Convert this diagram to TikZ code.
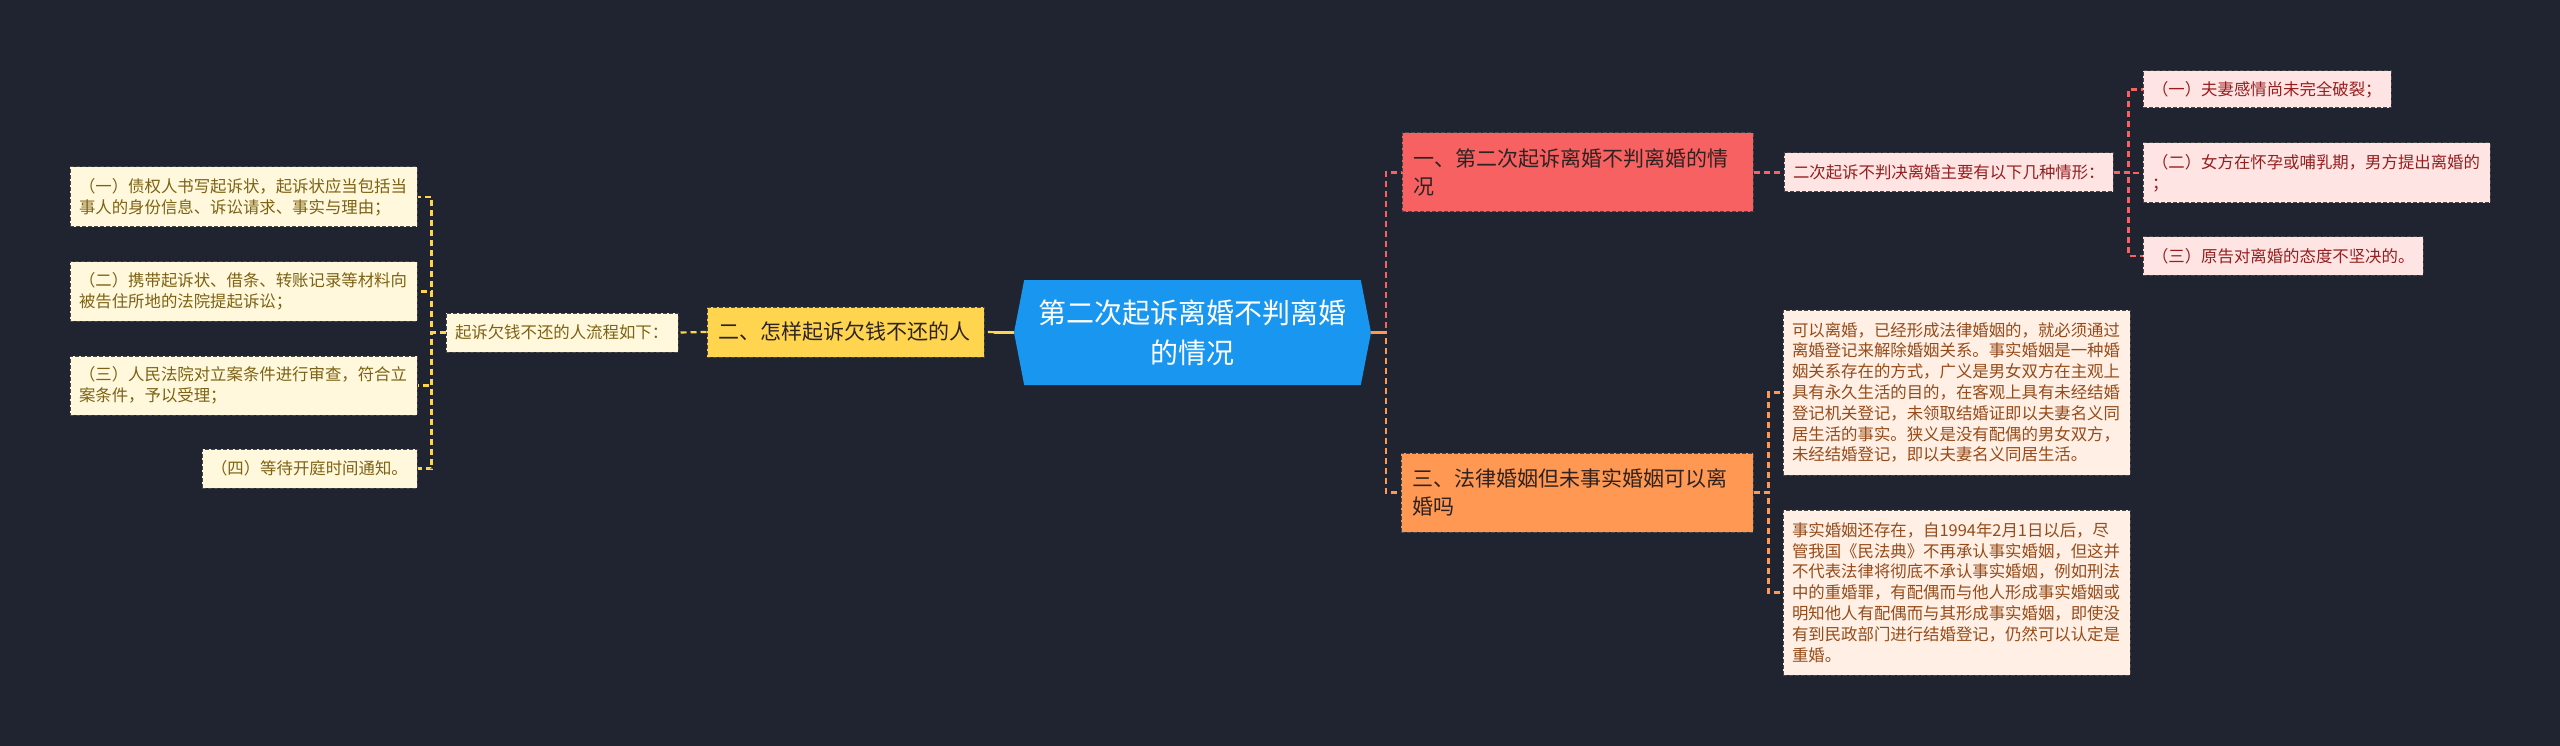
\documentclass[tikz,border=0pt]{standalone}
\usepackage{fontspec}
\newfontfamily\cjk{Noto Sans CJK SC}
\usepackage{tikz}
\usetikzlibrary{shapes.symbols, positioning, calc}
\definecolor{mindBg}{RGB}{32, 36, 48}
\definecolor{mindBlue}{RGB}{25, 150, 240}
\definecolor{mindYellow}{RGB}{255, 213, 79}
\definecolor{mindRed}{RGB}{247, 97, 97}
\definecolor{mindOrange}{RGB}{255, 152, 82}
\definecolor{leafYellow}{RGB}{255, 248, 220}
\definecolor{leafPink}{RGB}{255, 228, 228}
\definecolor{leafPeach}{RGB}{255, 239, 228}
\definecolor{inkYellow}{RGB}{125, 98, 20}
\definecolor{inkRed}{RGB}{150, 30, 30}
\definecolor{inkBrown}{RGB}{150, 75, 25}
\definecolor{inkDark}{RGB}{45, 35, 35}
\definecolor{boxEdge}{RGB}{70, 70, 70}

\begin{document}
\begin{tikzpicture}[x=1pt, y=-1pt,
    topic/.style={rectangle, draw=boxEdge, dash pattern=on 4pt off 2pt, line width=1pt,
                  inner xsep=11pt, inner ysep=0pt, align=left, text=inkDark,
                  font={\cjk\fontsize{21}{28}\selectfont}},
    leaf/.style={rectangle, draw=boxEdge, dash pattern=on 4pt off 2pt, line width=1pt,
                 inner xsep=9pt, inner ysep=0pt, align=left,
                 font={\cjk\fontsize{16.4}{20.8}\selectfont}},
    link/.style={line width=2.2pt, dash pattern=on 6pt off 4pt},
    stub/.style={line width=2.6pt}]
    \fill[mindBg] (0,0) rectangle (2560,746);
    \useasboundingbox (0,0) rectangle (2560,746);

    % centro
    \node[signal, signal to=west and east, signal pointer angle=158, fill=mindBlue,
          minimum width=357pt, minimum height=105pt, inner sep=0pt, align=center, text=white,
          font={\cjk\fontsize{28}{40}\selectfont}] (root) at (1192.5,332.5)
          {第二次起诉离婚不判离婚\\的情况};

    % rama izquierda
    \node[topic, fill=mindYellow, text width=255pt, minimum height=50pt] (branchB) at (845.5,332)
          {二、怎样起诉欠钱不还的人};
    \node[leaf, fill=leafYellow, text=inkYellow, text width=214pt, minimum height=39pt] (flow) at (562,332.5)
          {起诉欠钱不还的人流程如下：};
    \node[leaf, fill=leafYellow, text=inkYellow, text width=329pt, minimum height=60pt] (stepA) at (243.5,197)
          {（一）债权人书写起诉状，起诉状应当包括当\\事人的身份信息、诉讼请求、事实与理由；};
    \node[leaf, fill=leafYellow, text=inkYellow, text width=329pt, minimum height=59pt] (stepB) at (243.5,291.5)
          {（二）携带起诉状、借条、转账记录等材料向\\被告住所地的法院提起诉讼；};
    \node[leaf, fill=leafYellow, text=inkYellow, text width=329pt, minimum height=59pt] (stepC) at (243.5,385.5)
          {（三）人民法院对立案条件进行审查，符合立\\案条件，予以受理；};
    \node[leaf, fill=leafYellow, text=inkYellow, text width=197pt, minimum height=39pt] (stepD) at (309.5,468.5)
          {（四）等待开庭时间通知。};

    % rama derecha arriba
    \node[topic, fill=mindRed, text width=329pt, minimum height=79pt] (branchA) at (1577.5,172.5)
          {一、第二次起诉离婚不判离婚的情\\况};
    \node[leaf, fill=leafPink, text=inkRed, text width=311pt, minimum height=39pt] (sub) at (1948.5,172.5)
          {二次起诉不判决离婚主要有以下几种情形：};
    \node[leaf, fill=leafPink, text=inkRed, text width=230pt, minimum height=37pt] (caseA) at (2267,89.5)
          {（一）夫妻感情尚未完全破裂；};
    \node[leaf, fill=leafPink, text=inkRed, text width=329pt, minimum height=60pt] (caseB) at (2316.5,173)
          {（二）女方在怀孕或哺乳期，男方提出离婚的\\；};
    \node[leaf, fill=leafPink, text=inkRed, text width=262pt, minimum height=38pt] (caseC) at (2283,256)
          {（三）原告对离婚的态度不坚决的。};

    % rama derecha abajo
    \node[topic, fill=mindOrange, text width=330pt, minimum height=79pt] (branchC) at (1577,492.5)
          {三、法律婚姻但未事实婚姻可以离\\婚吗};
    \node[leaf, fill=leafPeach, text=inkBrown, text width=329pt, minimum height=165pt] (factA) at (1956.5,392.5)
          {可以离婚，已经形成法律婚姻的，就必须通过\\离婚登记来解除婚姻关系。事实婚姻是一种婚\\姻关系存在的方式，广义是男女双方在主观上\\具有永久生活的目的，在客观上具有未经结婚\\登记机关登记，未领取结婚证即以夫妻名义同\\居生活的事实。狭义是没有配偶的男女双方，\\未经结婚登记，即以夫妻名义同居生活。};
    \node[leaf, fill=leafPeach, text=inkBrown, text width=329pt, minimum height=165pt] (factB) at (1956.5,592.5)
          {事实婚姻还存在，自1994年2月1日以后，尽\\管我国《民法典》不再承认事实婚姻，但这并\\不代表法律将彻底不承认事实婚姻，例如刑法\\中的重婚罪，有配偶而与他人形成事实婚姻或\\明知他人有配偶而与其形成事实婚姻，即使没\\有到民政部门进行结婚登记，仍然可以认定是\\重婚。};

    % conectores
    \draw[link, draw=mindYellow] (root.west) -- (branchB.east);
    \draw[stub, draw=mindYellow] (root.west) -- ++(-20,0);
    \draw[link, draw=mindYellow] (branchB.west) -- (flow.east);
    \foreach \s in {stepA, stepB, stepC, stepD}
        \draw[link, draw=mindYellow] (flow.west) -- ++(-14,0) |- (\s.east);
    \draw[link, draw=mindRed] (root.east) -- ++(15,0) |- (branchA.west);
    \draw[link, draw=mindOrange] (root.east) -- ++(15,0) |- (branchC.west);
    \draw[stub, draw=mindOrange] (root.east) -- ++(15,0);
    \draw[link, draw=mindRed] (branchA.east) -- (sub.west);
    \foreach \s in {caseA, caseB, caseC}
        \draw[link, draw=mindRed] (sub.east) -- ++(15,0) |- (\s.west);
    \foreach \s in {factA, factB}
        \draw[link, draw=mindOrange] (branchC.east) -- ++(15,0) |- (\s.west);
\end{tikzpicture}
\end{document}
